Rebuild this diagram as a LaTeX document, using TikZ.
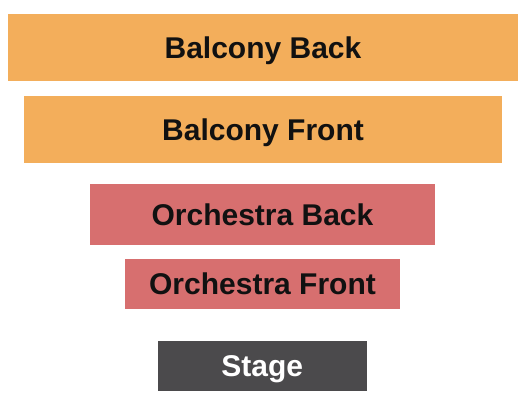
\documentclass[tikz,border=0pt]{standalone}
\usepackage{fontspec}
\setmainfont{Liberation Sans}
\usetikzlibrary{positioning}

\definecolor{balconyorange}{HTML}{F3AE5B}
\definecolor{orchestrared}{HTML}{D76F6F}
\definecolor{stagegray}{HTML}{4B4A4C}
\definecolor{labelblack}{HTML}{111111}

\tikzset{
  section/.style = {inner sep=0pt, font=\fontsize{30}{32}\selectfont\bfseries, text=labelblack,
                    text height=21.5pt, text depth=0pt},
  balcony/.style = {section, fill=balconyorange},
  orchestra/.style = {section, fill=orchestrared},
  stagebox/.style = {section, fill=stagegray, text=white}
}

\begin{document}
\begin{tikzpicture}[x=1pt, y=-1pt]
			\useasboundingbox (0,0) rectangle (525,400);
			
			\node[balcony, minimum width=510pt, minimum height=66.7pt] (bback) at (263,47.3) {Balcony Back};
			\node[balcony, minimum width=478pt, minimum height=67pt] (bfront) at (263,129.5) {Balcony Front};
			
			\node[orchestra, minimum width=345pt, minimum height=60.7pt] (oback) at (262.5,214.3) {Orchestra Back};
			\node[orchestra, minimum width=275pt, minimum height=49.7pt] (ofront) at (262.5,283.8) {Orchestra Front};
			
			\node[stagebox, minimum width=208.7pt, minimum height=49.7pt] (stage) at (262.3,365.8) {Stage};
\end{tikzpicture}
\end{document}
